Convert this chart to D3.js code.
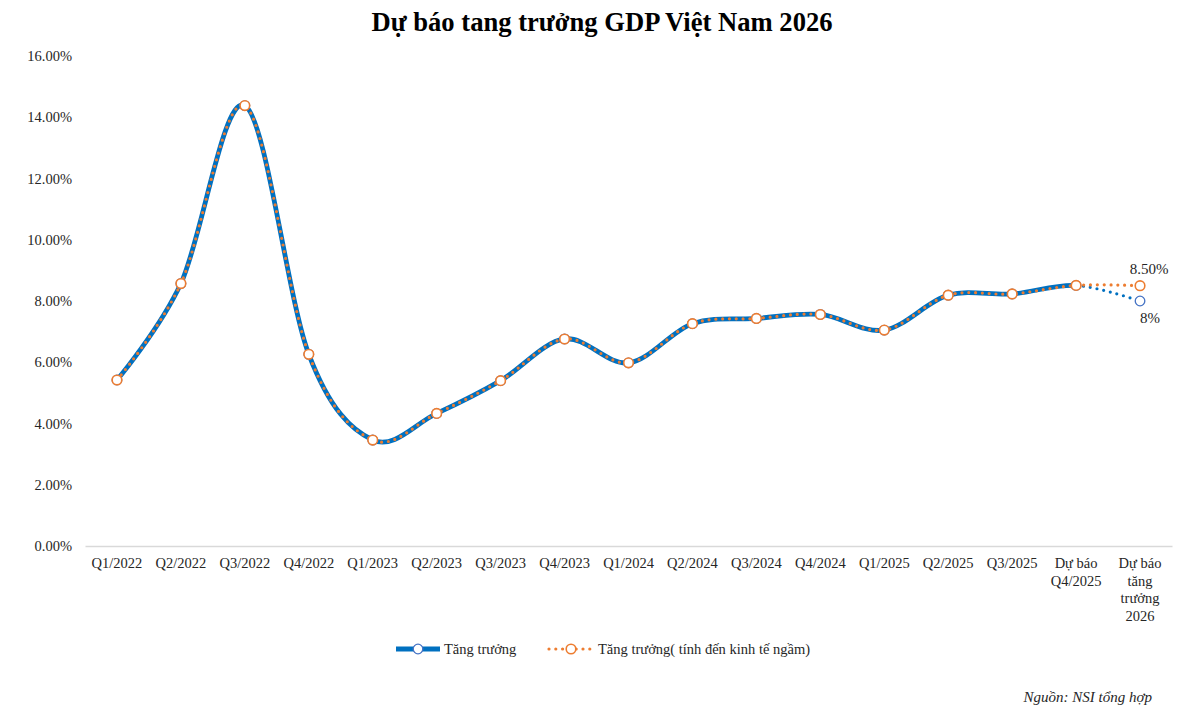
<!DOCTYPE html>
<html>
<head>
<meta charset="utf-8">
<script src="https://cdn.jsdelivr.net/npm/d3@7"></script>
<style>
  body { margin: 0; background: #fff; }
  svg { font-family: "Liberation Serif", "Times New Roman", serif; }
</style>
</head>
<body>
<div id="chart"></div>
<script>
// data
const categories = [
  "Q1/2022", "Q2/2022", "Q3/2022", "Q4/2022",
  "Q1/2023", "Q2/2023", "Q3/2023", "Q4/2023",
  "Q1/2024", "Q2/2024", "Q3/2024", "Q4/2024",
  "Q1/2025", "Q2/2025", "Q3/2025",
  "Dự báo|Q4/2025", "Dự báo|tăng|trưởng|2026"
];
const tangTruong = [5.42, 8.57, 14.38, 6.26, 3.46, 4.33, 5.40, 6.76, 5.98, 7.26, 7.43, 7.56, 7.05, 8.19, 8.23, 8.51, 8.0];
const tangTruongNgam = [5.42, 8.57, 14.38, 6.26, 3.46, 4.33, 5.40, 6.76, 5.98, 7.26, 7.43, 7.56, 7.05, 8.19, 8.23, 8.51, 8.5];
const yTicks = [0, 2, 4, 6, 8, 10, 12, 14, 16];
const seriesNames = ["Tăng trưởng", "Tăng trưởng( tính đến kinh tế ngầm)"];

const width = 1193, height = 718;
const margin = { top: 56, right: 21, bottom: 172, left: 85 };
const blue = "#0070C0", blueMarker = "#4472C4", orange = "#ED7D31";

const svg = d3.select("#chart").append("svg")
  .attr("width", width)
  .attr("height", height);

const xScale = d3.scaleBand()
  .domain(categories)
  .range([margin.left, width - margin.right])
  .padding(0);
const xPos = i => xScale(categories[i]) + xScale.bandwidth() / 2;

const yScale = d3.scaleLinear()
  .domain([0, 16])
  .range([height - margin.bottom, margin.top]);

// title
svg.append("text")
  .attr("x", 602)
  .attr("y", 31)
  .attr("text-anchor", "middle")
  .style("font-size", "26.6px")
  .style("font-weight", "bold")
  .text("Dự báo tang trưởng GDP Việt Nam 2026");

// y axis (labels only)
const yAxis = svg.append("g")
  .attr("transform", `translate(${margin.left},0)`)
  .call(d3.axisLeft(yScale).tickValues(yTicks).tickSize(0).tickPadding(13)
    .tickFormat(d => d.toFixed(2) + "%"));
yAxis.select(".domain").remove();
yAxis.selectAll("text")
  .style("font-size", "14.5px")
  .style("font-family", "Liberation Serif")
  .attr("fill", "#262626");

// x axis
const xAxis = svg.append("g")
  .attr("transform", `translate(0,${height - margin.bottom})`)
  .call(d3.axisBottom(xScale).tickSize(0).tickFormat(""));
xAxis.select(".domain").attr("stroke", "#d9d9d9").attr("stroke-width", 1.3);
xAxis.selectAll(".tick text").remove();
xAxis.selectAll(".tick").each(function(d) {
  const lines = d.split("|");
  const t = d3.select(this).append("text")
    .attr("fill", "#262626")
    .attr("text-anchor", "middle")
    .style("font-size", "14.5px")
    .style("font-family", "Liberation Serif");
  lines.forEach((line, i) => {
    t.append("tspan").attr("x", 0).attr("y", 22 + i * 17.5).text(line);
  });
});

// lines
const line = d3.line()
  .x((d, i) => xPos(i))
  .y(d => yScale(d))
  .curve(d3.curveCatmullRom.alpha(0));

const splitX = xPos(categories.length - 2);
const defs = svg.append("defs");
defs.append("clipPath").attr("id", "clip-left")
  .append("rect").attr("x", 0).attr("y", 0).attr("width", splitX).attr("height", height);
defs.append("clipPath").attr("id", "clip-right")
  .append("rect").attr("x", splitX).attr("y", 0).attr("width", width - splitX).attr("height", height);

svg.append("path")
  .datum(tangTruong)
  .attr("clip-path", "url(#clip-left)")
  .attr("fill", "none")
  .attr("stroke", blue)
  .attr("stroke-width", 4.8)
  .attr("d", line);

svg.append("path")
  .datum(tangTruong)
  .attr("clip-path", "url(#clip-right)")
  .attr("fill", "none")
  .attr("stroke", blue)
  .attr("stroke-width", 3.2)
  .attr("stroke-linecap", "round")
  .attr("stroke-dasharray", "0 6.8")
  .attr("d", line);

svg.append("path")
  .datum(tangTruongNgam)
  .attr("fill", "none")
  .attr("stroke", orange)
  .attr("stroke-width", 3.2)
  .attr("stroke-linecap", "round")
  .attr("stroke-dasharray", "0 6.8")
  .attr("d", line);

// markers
svg.selectAll(".m-blue")
  .data(tangTruong)
  .enter().append("circle")
  .attr("class", "m-blue")
  .attr("cx", (d, i) => xPos(i))
  .attr("cy", d => yScale(d))
  .attr("r", 4.8)
  .attr("fill", "#fff")
  .attr("stroke", blueMarker)
  .attr("stroke-width", 1.3);

svg.selectAll(".m-orange")
  .data(tangTruongNgam)
  .enter().append("circle")
  .attr("class", "m-orange")
  .attr("cx", (d, i) => xPos(i))
  .attr("cy", d => yScale(d))
  .attr("r", 4.8)
  .attr("fill", "#fff")
  .attr("stroke", orange)
  .attr("stroke-width", 1.6);

// data labels on the 2026 points
const last = categories.length - 1;
svg.append("text")
  .attr("x", xPos(last) + 9)
  .attr("y", yScale(tangTruongNgam[last]) - 12)
  .attr("text-anchor", "middle")
  .attr("fill", "#262626")
  .style("font-size", "15px")
  .text(tangTruongNgam[last].toFixed(2) + "%");
svg.append("text")
  .attr("x", xPos(last) + 10)
  .attr("y", yScale(tangTruong[last]) + 22)
  .attr("text-anchor", "middle")
  .attr("fill", "#262626")
  .style("font-size", "15px")
  .text(tangTruong[last] + "%");

// legend
const legendY = 649;
const lg1 = svg.append("g").attr("transform", `translate(396,${legendY})`);
lg1.append("line").attr("x1", 0).attr("x2", 44).attr("y1", 0).attr("y2", 0)
  .attr("stroke", blue).attr("stroke-width", 4.8);
lg1.append("circle").attr("cx", 22).attr("cy", 0).attr("r", 4.8)
  .attr("fill", "#fff").attr("stroke", blueMarker).attr("stroke-width", 1.3);
lg1.append("text").attr("x", 48).attr("y", 5).attr("fill", "#262626")
  .style("font-size", "14.5px").text(seriesNames[0]);

const lg2 = svg.append("g").attr("transform", `translate(549,${legendY})`);
lg2.append("line").attr("x1", 0).attr("x2", 44).attr("y1", 0).attr("y2", 0)
  .attr("stroke", orange).attr("stroke-width", 3.2)
  .attr("stroke-linecap", "round").attr("stroke-dasharray", "0 6.8");
lg2.append("circle").attr("cx", 22).attr("cy", 0).attr("r", 4.8)
  .attr("fill", "#fff").attr("stroke", orange).attr("stroke-width", 1.6);
lg2.append("text").attr("x", 49).attr("y", 5).attr("fill", "#262626")
  .style("font-size", "14.5px").text(seriesNames[1]);

// source
svg.append("text")
  .attr("x", 1152)
  .attr("y", 702)
  .attr("text-anchor", "end")
  .style("font-size", "15px")
  .style("font-style", "italic")
  .attr("fill", "#262626")
  .text("Nguồn: NSI tổng hợp");
</script>
</body>
</html>
